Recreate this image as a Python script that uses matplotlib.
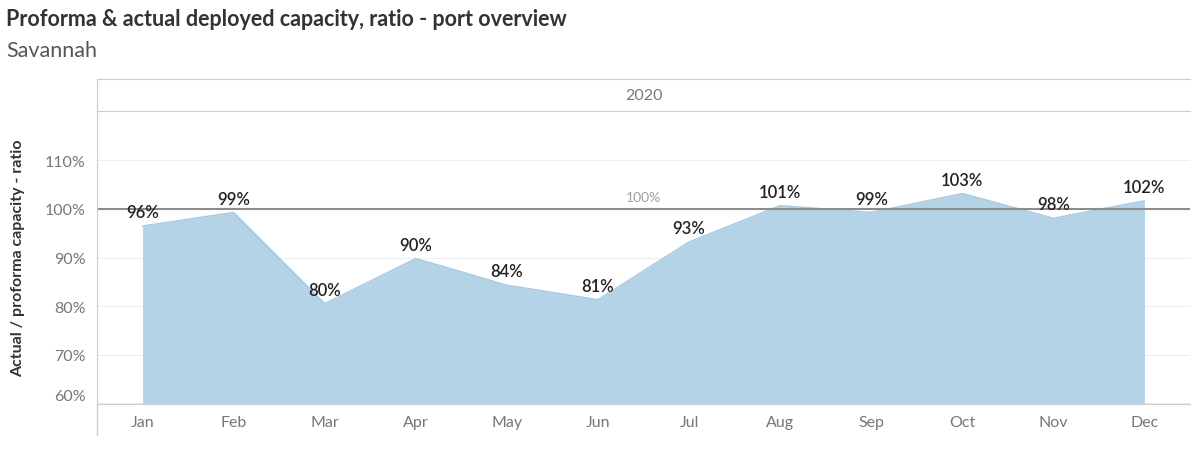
import numpy as np
import matplotlib.pyplot as plt

months = ["Jan", "Feb", "Mar", "Apr", "May", "Jun", "Jul", "Aug", "Sep", "Oct", "Nov", "Dec"]
ratio = [96.5, 99.3, 80.5, 89.8, 84.3, 81.3, 93.2, 100.7, 99.3, 103.2, 98.1, 101.7]
labels = ["96%", "99%", "80%", "90%", "84%", "81%", "93%", "101%", "99%", "103%", "98%", "102%"]
yticks = [60, 70, 80, 90, 100, 110]

plt.rcParams['font.family'] = ['Lato', 'DejaVu Sans']
fig = plt.figure(figsize=(12, 4.56), dpi=100)

L, R = 97 / 1200, 1190 / 1200
ax = fig.add_axes([L, 51 / 456, R - L, 293 / 456])
hdr = fig.add_axes([L, 344 / 456, R - L, 32 / 456])

x = np.arange(len(months))
ymin = 59.8
ax.fill_between(x, ymin, ratio, color="#b5d3e7", lw=0)
ax.plot(x, ratio, color="#a7c9e2", lw=1)
ax.axhline(100, color="#8c8c8c", lw=1.5)
ax.text(5.5, 101.2, "100%", color="#a0a0a0", fontsize=10, ha="center", va="bottom")
for xi, v, s in zip(x, ratio, labels):
    ax.text(xi, v + 1.2, s, ha="center", va="bottom", fontsize=12, color="#222222",
            fontweight="semibold")

ax.set_xlim(-0.5, 11.5)
ax.set_ylim(ymin, 120.2)
ax.set_xticks(x)
ax.set_xticklabels(months, color="#777777", fontsize=11.5)
ax.set_yticks(yticks)
ax.set_yticklabels([f"{t}%" for t in yticks], color="#777777", fontsize=11.5)
ax.get_yticklabels()[0].set_va("bottom")
ax.tick_params(length=0, pad=8)
ax.grid(axis="y", color="#eeeeee", lw=0.8)
ax.set_axisbelow(True)
for sp in ["top", "right"]:
    ax.spines[sp].set_visible(False)
ax.spines["left"].set_color("#cccccc")
ax.spines["bottom"].set_color("#cccccc")
ax.set_ylabel("Actual / proforma capacity - ratio", fontsize=11.5, fontweight="bold",
              color="#333333", labelpad=14)

hdr.set_xticks([])
hdr.set_yticks([])
hdr.spines["right"].set_visible(False)
for sp in ["top", "bottom", "left"]:
    hdr.spines[sp].set_color("#cccccc")
hdr.text(0.5, 0.5, "2020", ha="center", va="center", color="#777777", fontsize=11.5,
         transform=hdr.transAxes)

fig.add_artist(plt.Line2D([L, L], [20 / 456, 51 / 456], color="#cccccc", lw=1))
fig.text(6 / 1200, 1 - 19 / 456, "Proforma & actual deployed capacity, ratio - port overview",
         fontsize=15.5, color="#333333", va="center", fontweight="bold")
fig.text(6 / 1200, 1 - 51 / 456, "Savannah", fontsize=15.5, color="#555555", va="center")

fig.savefig("out.png", dpi=100)
